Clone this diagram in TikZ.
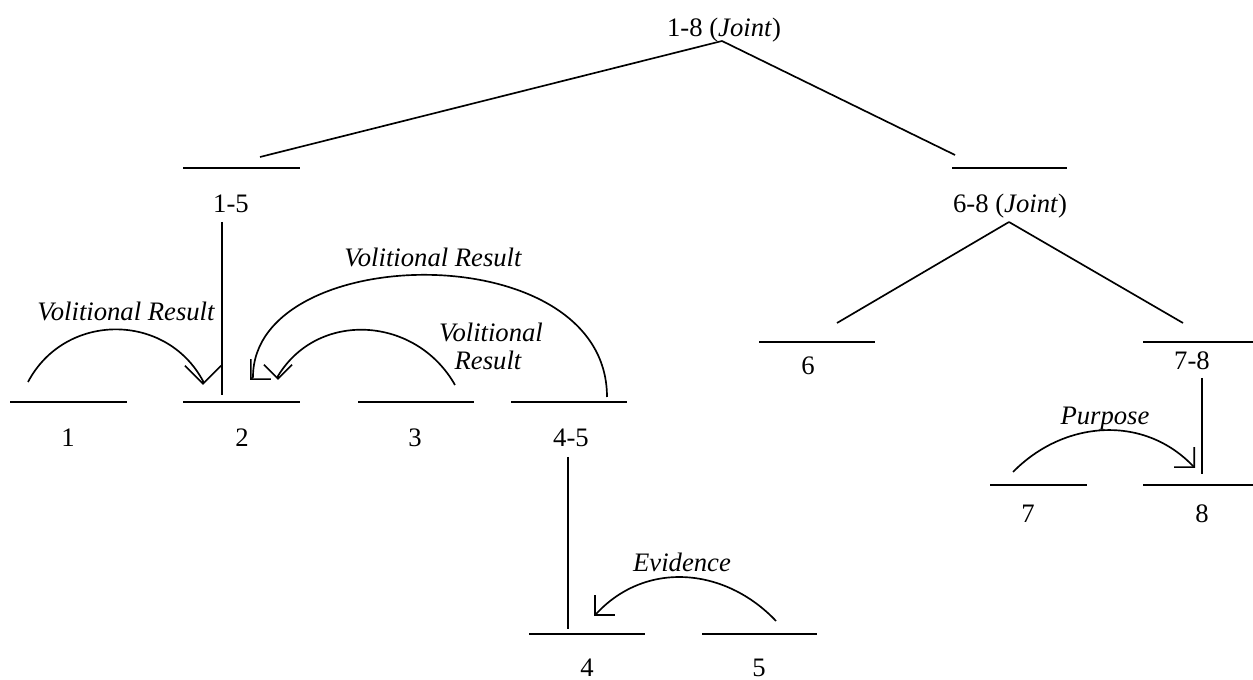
\documentclass[tikz,border=0pt]{standalone}
\usepackage{fontspec}
\setmainfont{Liberation Serif}
\usetikzlibrary{arrows.meta}
\begin{document}
\begin{tikzpicture}[x=0.45pt,y=-0.45pt,
  bar/.style={line width=0.9pt},
  tree/.style={line width=0.75pt},
  rel/.style={line width=0.75pt,-{Straight Barb[angle=90:9pt]}},
  relwide/.style={line width=0.75pt,-{Straight Barb[angle=90:11.5pt]}},
  lbl/.style={anchor=base,inner sep=0pt,font=\fontsize{12}{14}\selectfont},
  rlbl/.style={lbl,font=\fontsize{12}{14}\selectfont\itshape}]
\useasboundingbox (0,0) rectangle (1253,680);

% ---- labels
\node[lbl] (n18) at (724,37) {1-8 (\textit{Joint})};
\node[lbl] (n15) at (231,213) {1-5};
\node[lbl] (n68) at (1010,213) {6-8 (\textit{Joint})};
\node[lbl] (n6) at (808,375) {6};
\node[lbl] (n78) at (1192,370) {7-8};
\node[lbl] (n1) at (68,447) {1};
\node[lbl] (n2) at (242,447) {2};
\node[lbl] (n3) at (415,447) {3};
\node[lbl] (n45) at (571,447) {4-5};
\node[lbl] (n7) at (1028,523) {7};
\node[lbl] (n8) at (1202,523) {8};
\node[lbl] (n4) at (587,677) {4};
\node[lbl] (n5) at (759,677) {5};

% ---- relation labels
\node[rlbl] (r12) at (126,321) {Volitional Result};
\node[rlbl] (r452) at (433,267) {Volitional Result};
\node[rlbl] (r32a) at (491,342) {Volitional};
\node[rlbl] (r32b) at (488,370) {Result};
\node[rlbl] (rev) at (682,572) {Evidence};
\node[rlbl] (rpu) at (1105,425) {Purpose};

% ---- bars
\coordinate (b15l) at (183,168);  \coordinate (b15r) at (300,168);
\coordinate (b68l) at (952,168);  \coordinate (b68r) at (1067,168);
\coordinate (b6l) at (759,342);   \coordinate (b6r) at (875,342);
\coordinate (b78l) at (1143,342); \coordinate (b78r) at (1253,342);
\coordinate (b1l) at (10,402);    \coordinate (b1r) at (127,402);
\coordinate (b2l) at (183,402);   \coordinate (b2r) at (300,402);
\coordinate (b3l) at (358,402);   \coordinate (b3r) at (474,402);
\coordinate (b45l) at (511,402);  \coordinate (b45r) at (627,402);
\coordinate (b7l) at (990,485);   \coordinate (b7r) at (1087,485);
\coordinate (b8l) at (1143,485);  \coordinate (b8r) at (1253,485);
\coordinate (b4l) at (529,634);   \coordinate (b4r) at (645,634);
\coordinate (b5l) at (702,634);   \coordinate (b5r) at (817,634);
\foreach \b in {15,68,6,78,1,2,3,45,7,8,4,5}
  \draw[bar] (b\b l) -- (b\b r);

% ---- tree lines
\coordinate (t18) at (722,41);
\coordinate (e15) at (260,157);
\coordinate (e68) at (955,155);
\draw[tree] (t18) -- (e15);
\draw[tree] (t18) -- (e68);
\coordinate (t68) at (1009,222);
\coordinate (e6) at (837,323);
\coordinate (e78) at (1183,323);
\draw[tree] (t68) -- (e6);
\draw[tree] (t68) -- (e78);
\coordinate (v15a) at (222,222); \coordinate (v15b) at (222,395);
\draw[tree] (v15a) -- (v15b);
\coordinate (v45a) at (568,457); \coordinate (v45b) at (568,629);
\draw[tree] (v45a) -- (v45b);
\coordinate (v78a) at (1202,378); \coordinate (v78b) at (1202,474);
\draw[tree] (v78a) -- (v78b);

% ---- relation arcs
% 1 -> 2
\coordinate (s1) at (28,382);
\coordinate (h12) at (203,381);
\coordinate (p12) at (203,385);
\draw[relwide] (s1) .. controls (65,312) and (166,312) .. (h12) -- (p12);
% 3 -> 2
\coordinate (s3) at (455,385);
\coordinate (h32) at (278,376);
\coordinate (p32) at (278,380);
\draw[rel] (s3) .. controls (416,316) and (318,310) .. (h32) -- (p32);
% 4-5 -> 2
\coordinate (s45) at (607,397);
\coordinate (h452) at (253,377);
\coordinate (p452) at (250,380);
\draw[rel] (s45) .. controls (607,234) and (253,241) .. (h452) -- (p452);
% 5 -> 4 (Evidence)
\coordinate (s5) at (776,621);
\coordinate (h54) at (597,613);
\coordinate (p54) at (594,616);
\draw[rel] (s5) .. controls (726,568) and (647,560) .. (h54) -- (p54);
% 7 -> 8 (Purpose)
\coordinate (s7) at (1013,472);
\coordinate (h78) at (1192,465);
\coordinate (p78) at (1195,468);
\draw[rel] (s7) .. controls (1063,421) and (1142,414) .. (h78) -- (p78);
\end{tikzpicture}
\end{document}
